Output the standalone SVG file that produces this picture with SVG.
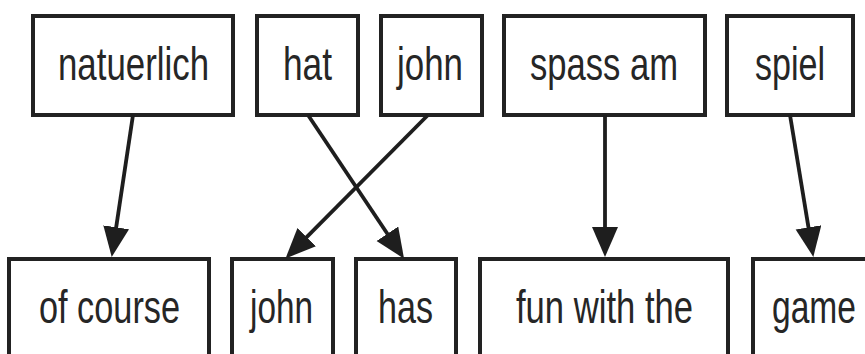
<svg xmlns="http://www.w3.org/2000/svg" width="865" height="354" viewBox="0 0 865 354">
  <style>
    .box { fill: #ffffff; stroke: #222222; stroke-width: 4; }
    .lbl { font-family: "Liberation Sans", Arial, sans-serif; font-size: 46px; fill: #262626; text-anchor: middle; }
    .edge { stroke: #1e1e1e; stroke-width: 3.8; fill: none; marker-end: url(#head); }
  </style>
  <defs>
    <marker id="head" markerUnits="userSpaceOnUse" markerWidth="32" markerHeight="28" refX="18" refY="13" orient="auto" viewBox="0 0 32 28">
      <path d="M0,0 L30,13 L0,26 z" fill="#1e1e1e"/>
    </marker>
  </defs>
  <rect width="865" height="354" fill="#ffffff"/>

  <!-- German source words -->
  <g id="src-natuerlich">
    <rect class="box" x="33" y="16" width="200" height="99"/>
    <text class="lbl" x="133.5" y="80" textLength="151" lengthAdjust="spacingAndGlyphs">natuerlich</text>
  </g>
  <g id="src-hat">
    <rect class="box" x="257" y="16" width="101" height="99"/>
    <text class="lbl" x="307.5" y="80" textLength="49" lengthAdjust="spacingAndGlyphs">hat</text>
  </g>
  <g id="src-john">
    <rect class="box" x="381" y="16" width="101" height="99"/>
    <text class="lbl" x="430" y="80" textLength="66" lengthAdjust="spacingAndGlyphs">john</text>
  </g>
  <g id="src-spass-am">
    <rect class="box" x="504" y="16" width="201" height="99"/>
    <text class="lbl" x="604" y="80" textLength="148" lengthAdjust="spacingAndGlyphs">spass am</text>
  </g>
  <g id="src-spiel">
    <rect class="box" x="727" y="16" width="126" height="99"/>
    <text class="lbl" x="790" y="80" textLength="70" lengthAdjust="spacingAndGlyphs">spiel</text>
  </g>

  <!-- English target words -->
  <g id="tgt-of-course">
    <rect class="box" x="9" y="259" width="200" height="100"/>
    <text class="lbl" x="109.5" y="323" textLength="141" lengthAdjust="spacingAndGlyphs">of course</text>
  </g>
  <g id="tgt-john">
    <rect class="box" x="232" y="259" width="101" height="100"/>
    <text class="lbl" x="281.5" y="323" textLength="63" lengthAdjust="spacingAndGlyphs">john</text>
  </g>
  <g id="tgt-has">
    <rect class="box" x="356" y="259" width="100" height="100"/>
    <text class="lbl" x="405.5" y="323" textLength="55" lengthAdjust="spacingAndGlyphs">has</text>
  </g>
  <g id="tgt-fun-with-the">
    <rect class="box" x="480" y="259" width="248" height="100"/>
    <text class="lbl" x="604.5" y="323" textLength="177" lengthAdjust="spacingAndGlyphs">fun with the</text>
  </g>
  <g id="tgt-game">
    <rect class="box" x="753" y="259" width="126" height="100"/>
    <text class="lbl" x="814" y="323" textLength="84" lengthAdjust="spacingAndGlyphs">game</text>
  </g>

  <!-- alignment links -->
  <g id="links">
    <line class="edge" x1="133" y1="115" x2="113.5" y2="245.1"/>
    <line class="edge" x1="308" y1="115" x2="397.4" y2="248.7"/>
    <line class="edge" x1="428" y1="115" x2="294.0" y2="249.9"/>
    <line class="edge" x1="605" y1="115" x2="605" y2="245"/>
    <line class="edge" x1="790" y1="115" x2="811.4" y2="245.1"/>
  </g>
</svg>
